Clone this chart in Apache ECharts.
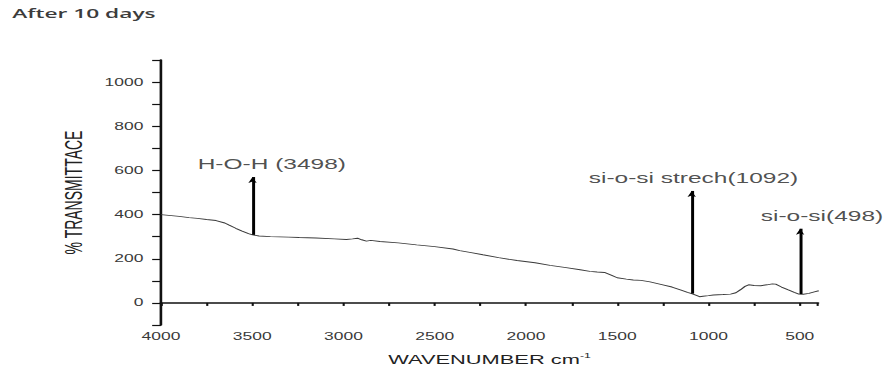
<!DOCTYPE html>
<html>
<head>
<meta charset="utf-8">
<title>After 10 days</title>
<script src="https://cdn.jsdelivr.net/npm/echarts@6/dist/echarts.min.js"></script>
<style>
  html, body { margin: 0; padding: 0; background: #fff; overflow: hidden; }
  #wrap { width: 885px; height: 371px; overflow: hidden; }
  /* the plot is laid out narrow and widened horizontally */
  #chart { width: 506px; height: 371px; transform: scaleX(1.749); transform-origin: 0 0; }
</style>
</head>
<body>
<div id="wrap"><div id="chart"></div></div>
<script>
// FTIR spectrum: wavenumber (cm-1) and transmittance
const wavenumbers = [4000, 3900, 3846, 3800, 3750, 3698, 3650, 3626, 3590, 3555, 3520, 3498, 3462, 3400,
  3300, 3242, 3150, 3050, 2984, 2950, 2923, 2900, 2874, 2850, 2800, 2700, 2599, 2500, 2400, 2363, 2300,
  2236, 2150, 2049, 1950, 1868, 1780, 1703, 1650, 1610, 1570, 1530, 1500, 1450, 1412, 1370, 1320, 1250,
  1200, 1150, 1115, 1092, 1070, 1049, 1030, 1000, 973, 920, 879, 850, 824, 800, 780, 750, 714, 680, 650,
  632, 600, 566, 530, 505, 480, 450, 420, 396];
const transmittance = [400, 392, 386, 383, 378, 373, 362, 352, 338, 325, 314, 308, 303, 300,
  298, 296, 294, 290, 287, 290, 293, 286, 280, 283, 278, 272, 263, 255, 244, 237, 228,
  218, 205, 192, 182, 170, 160, 150, 143, 140, 138, 125, 114, 108, 104, 102, 95, 82,
  72, 58, 48, 42, 35, 28, 30, 33, 36, 38, 40, 46, 60, 75, 82, 79, 78, 82, 86,
  85, 72, 60, 48, 40, 39, 43, 50, 55];

// Band assignments marked with arrows
const peakWavenumbers = [3498, 1092, 498];
const peakLabels = ['H-O-H (3498)', 'si-o-si strech(1092)', 'si-o-si(498)'];
const arrowBase = [308, 42, 40];
const arrowTop = [570, 507, 336];

// Axis ticks
const xTickLabels = [4000, 3500, 3000, 2500, 2000, 1500, 1000, 500];
const yTickLabels = [0, 200, 400, 600, 800, 1000];

// The wavenumber axis runs high to low, so it is plotted as -wavenumber
const spectrum = wavenumbers.map((w, i) => [-w, transmittance[i]]);
const arrowLines = peakWavenumbers.map((w, i) => [
  { coord: [-w, arrowBase[i]] },
  { coord: [-w, arrowTop[i]] }
]);
const labelOffsets = [[11, 0], [1, 0], [12.5, 0]];
const peakTexts = peakWavenumbers.map((w, i) => ({
  value: [-w, arrowTop[i]],
  name: peakLabels[i],
  label: { offset: labelOffsets[i] }
}));

const tickFont = { fontFamily: 'Liberation Sans, Arial, sans-serif', fontSize: 10, color: '#3a3a3a' };

const chart = echarts.init(document.getElementById('chart'), null, { renderer: 'svg' });
chart.setOption({
  animation: false,
  backgroundColor: '#fff',
  title: {
    text: 'After 10 days',
    left: 7,
    top: 6,
    padding: 0,
    textStyle: { fontFamily: 'Open Sans, sans-serif', fontSize: 13, fontWeight: 600, color: '#3c3c3c' }
  },
  grid: { left: 92, right: 38.3, top: 60, bottom: 44 },
  xAxis: {
    type: 'value',
    min: -4000,
    max: -400,
    interval: 250,
    name: '{n|WAVENUMBER cm}{s|-1}',
    nameLocation: 'middle',
    nameGap: 27,
    nameTextStyle: {
      rich: {
        n: { fontFamily: 'Liberation Sans, Arial, sans-serif', fontSize: 12.5, color: '#222' },
        s: { fontFamily: 'Liberation Sans, Arial, sans-serif', fontSize: 7, color: '#222', verticalAlign: 'top', padding: [0, 0, 8, 0] }
      }
    },
    axisLine: { lineStyle: { color: '#111', width: 1.6 } },
    axisTick: { length: 3, inside: false, lineStyle: { color: '#111', width: 1.2 } },
    axisLabel: Object.assign({
      margin: 6,
      formatter: v => (xTickLabels.indexOf(-v) >= 0 ? String(-v) : '')
    }, tickFont),
    splitLine: { show: false }
  },
  yAxis: {
    type: 'value',
    min: -100,
    max: 1100,
    interval: 100,
    name: '% TRANSMITTACE',
    nameLocation: 'middle',
    nameRotate: 90,
    nameGap: 42,
    nameTextStyle: { fontFamily: 'Liberation Sans Narrow, Arial Narrow, Liberation Sans, sans-serif', fontSize: 14, color: '#222' },
    axisLine: { lineStyle: { color: '#111', width: 1.5 } },
    axisTick: { length: 5, lineStyle: { color: '#111', width: 1.2 } },
    axisLabel: Object.assign({
      margin: 10,
      formatter: v => (yTickLabels.indexOf(v) >= 0 ? String(v) : '')
    }, tickFont),
    splitLine: { show: false }
  },
  series: [
    {
      type: 'line',
      data: spectrum,
      showSymbol: false,
      smooth: false,
      lineStyle: { color: '#3a3a3a', width: 0.9 },
      markLine: {
        silent: true,
        symbol: ['none', 'arrow'],
        symbolSize: [3.6, 6],
        label: { show: false },
        lineStyle: { color: '#000', width: 1.7, type: 'solid' },
        data: arrowLines
      }
    },
    {
      type: 'scatter',
      data: peakTexts,
      symbolSize: 0,
      silent: true,
      label: {
        show: true,
        position: 'top',
        distance: 6,
        formatter: p => p.name,
        fontFamily: 'Liberation Sans, Arial, sans-serif',
        fontSize: 14,
        color: '#222'
      }
    }
  ]
});
</script>
</body>
</html>
